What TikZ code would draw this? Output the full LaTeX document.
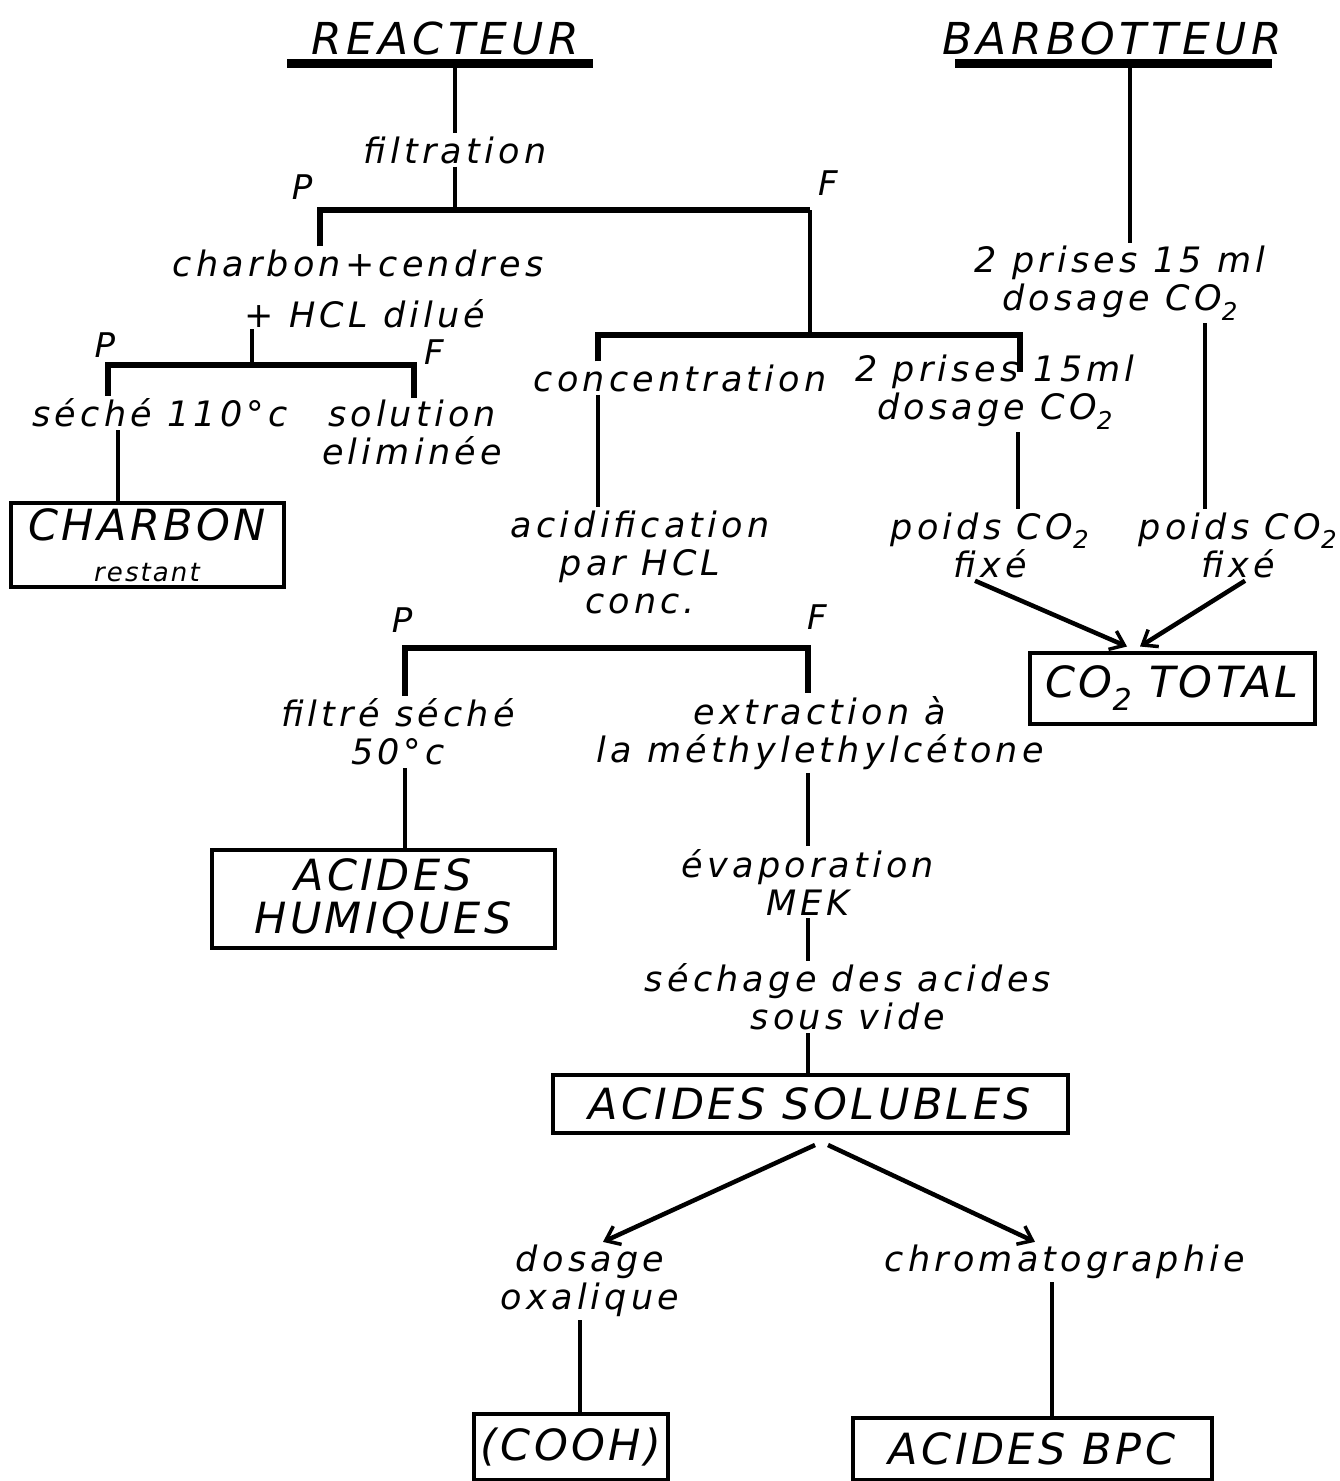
\documentclass[tikz,border=0pt]{standalone}
\usepackage{fontspec}
\usetikzlibrary{arrows.meta}
\newfontfamily\labfont[LetterSpace=12]{DejaVu Sans}
\newfontfamily\ttlfont[LetterSpace=10]{DejaVu Sans}
\newfontfamily\boxfont[LetterSpace=8]{DejaVu Sans}
\tikzset{
  lab/.style={font=\labfont\itshape\fontsize{35}{38}\selectfont, align=center, inner sep=3pt},
  ttl/.style={font=\ttlfont\itshape\fontsize{44}{50}\selectfont, inner sep=0pt},
  res/.style={draw, line width=4pt, font=\boxfont\itshape\fontsize{43}{43}\selectfont, align=center, inner sep=0pt},
  pf/.style={font=\labfont\itshape\fontsize{34}{36}\selectfont, inner sep=0pt},
  conn/.style={line width=3.5pt},
  split/.style={line width=5.5pt},
  uline/.style={line width=9pt},
  arr/.style={line width=4.5pt, -{Straight Barb[length=13pt,width=20pt,line width=3.5pt]}},
}
\begin{document}
\begin{tikzpicture}[x=1pt,y=-1pt]
\path[use as bounding box, fill=white] (0,0) rectangle (1340,1481);

% titles
\node[ttl] (react) at (445,38) {REACTEUR};
\node[ttl] (barb) at (1112,38) {BARBOTTEUR};
\coordinate (rbL) at (287,63); \coordinate (rbR) at (593,63); \coordinate (rbM) at (455,63);
\coordinate (bbL) at (955,63); \coordinate (bbR) at (1272,63); \coordinate (bbM) at (1130,63);
\draw[uline] (rbL) -- (rbR);
\draw[uline] (bbL) -- (bbR);

% filtration
\node[lab] (filt) at (455,150) {filtration};
\coordinate (j1) at (455,210);
\draw[conn] (rbM) -- (filt);
\draw[conn] (filt) -- (j1);
\coordinate (b1L) at (320,210); \coordinate (b1R) at (810,210);
\node[pf] (P1) at (302,187) {P};
\node[pf] (F1) at (828,183) {F};
\node[lab] (cc1) at (358,263) {charbon+cendres};
\node[lab, inner sep=1pt] (cc2) at (365,314) {+ HCL dilué};
\draw[split] (cc1.north -| b1L) -- (b1L) -- (b1R);

% left sub-branch
\coordinate (b2M) at (252,365); \coordinate (b2L) at (108,365); \coordinate (b2R) at (414,365);
\coordinate (b2Rend) at (414,398);
\draw[conn] (cc2.south -| b2M) -- (b2M);
\node[pf] (P2) at (105,345) {P};
\node[pf] (F2) at (434,352) {F};
\node[lab] (seche) at (160,413) {séché 110°c};
\node[lab] (solel) at (412,432) {solution\\eliminée};
\draw[split] (seche.north -| b2L) -- (b2L) -- (b2R) -- (b2Rend);
\node[res, minimum width=273, minimum height=84] (charb) at (147,545) {CHARBON\\[-2pt]{\fontsize{26}{26}\selectfont restant}};
\coordinate (xc) at (118,0);
\draw[conn] (seche.south -| xc) -- (charb.north -| xc);

% right branch of filtrate
\coordinate (b3L) at (598,335); \coordinate (b3R) at (1020,335); \coordinate (b3M) at (810,335);
\coordinate (b3Rend) at (1020,372);
\draw[conn] (b1R) -- (b3M);
\node[lab] (conc) at (680,378) {concentration};
\node[lab] (pr2) at (995,392) {2 prises 15ml\\dosage CO\textsubscript{2}};
\draw[split] (conc.north -| b3L) -- (b3L) -- (b3R) -- (b3Rend);
\node[lab] (acid) at (640,562) {acidification\\par HCL\\conc.};
\draw[conn] (conc.south -| b3L) -- (acid.north -| b3L);
\node[lab] (po1) at (990,545) {poids CO\textsubscript{2}\\fixé};
\coordinate (x1018) at (1018,0);
\draw[conn] (pr2.south -| x1018) -- (po1.north -| x1018);

% barbotteur
\node[lab] (pr1) at (1120,283) {2 prises 15 ml\\dosage CO\textsubscript{2}};
\draw[conn] (bbM) -- (pr1.north -| bbM);
\node[lab] (po2) at (1238,545) {poids CO\textsubscript{2}\\fixé};
\coordinate (x1205) at (1205,0);
\draw[conn] (pr1.south -| x1205) -- (po2.north -| x1205);
\node[res, minimum width=285, minimum height=71] (tot) at (1172,688) {CO\textsubscript{2} TOTAL};
\draw[arr] ([xshift=-15pt]po1.south) -- ([xshift=-45pt,yshift=4pt]tot.north);
\draw[arr] ([xshift=7pt]po2.south) -- ([xshift=-32pt,yshift=4pt]tot.north);

% acidification split
\node[pf] (P3) at (402,620) {P};
\node[pf] (F3) at (817,617) {F};
\coordinate (b4L) at (405,648); \coordinate (b4R) at (808,648);
\node[lab] (filtre) at (398,732) {filtré séché\\50°c};
\node[lab] (extr) at (820,733) {extraction à\\la méthylethylcétone};
\draw[split] (filtre.north -| b4L) -- (b4L) -- (b4R) -- (extr.north -| b4R);
\node[res, minimum width=343, minimum height=98] (hum) at (383,899) {ACIDES\\HUMIQUES};
\draw[conn] (filtre.south -| b4L) -- (hum.north -| b4L);
\node[lab] (evap) at (808,882) {évaporation\\MEK};
\draw[conn] (extr.south -| b4R) -- (evap.north -| b4R);
\node[lab] (sech) at (848,997) {séchage des acides\\sous vide};
\draw[conn] (evap.south -| b4R) -- (sech.north -| b4R);
\node[res, minimum width=515, minimum height=58] (sol) at (810,1104) {ACIDES SOLUBLES};
\draw[conn] (sech.south -| b4R) -- (sol.north -| b4R);

% bottom
\node[lab] (dos) at (590,1281) {dosage\\oxalique};
\node[lab] (chrom) at (1065,1262) {chromatographie};
\draw[arr] ([xshift=5pt,yshift=-10pt]sol.south) -- ([xshift=13pt]dos.north);
\draw[arr] ([xshift=18pt,yshift=-10pt]sol.south) -- ([xshift=-30pt]chrom.north);
\node[res, minimum width=194, minimum height=66] (cooh) at (571,1447) {(COOH)};
\coordinate (x580) at (580,0);
\draw[conn] (dos.south -| x580) -- (cooh.north -| x580);
\node[res, minimum width=359, minimum height=62] (bpc) at (1032,1449) {ACIDES BPC};
\coordinate (x1052) at (1052,0);
\draw[conn] (chrom.south -| x1052) -- (bpc.north -| x1052);
\end{tikzpicture}
\end{document}
